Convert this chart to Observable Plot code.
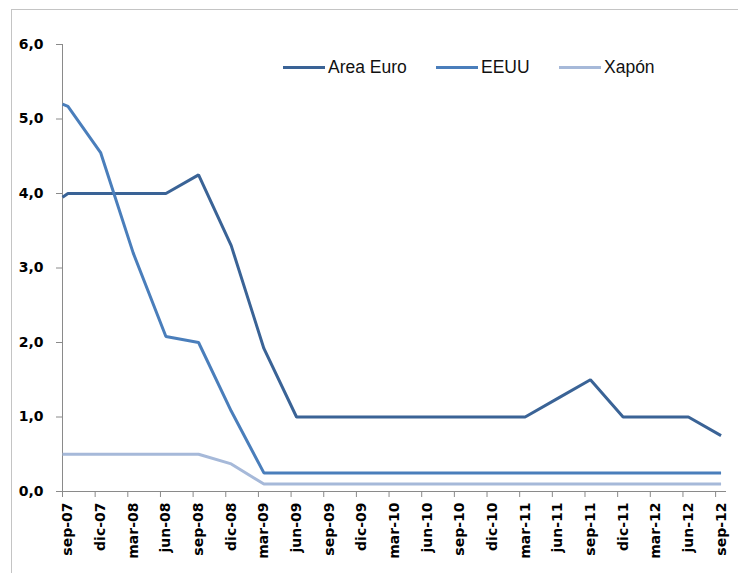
<!DOCTYPE html>
<html>
<head>
<meta charset="utf-8">
<script src="https://cdn.jsdelivr.net/npm/d3@7"></script>
<script src="https://cdn.jsdelivr.net/npm/@observablehq/plot@0.6"></script>
<style>
  html, body { margin: 0; padding: 0; background: #fff; }
  #wrap { position: relative; width: 738px; height: 573px; overflow: hidden; }
  #frame { position: absolute; left: 11px; top: 9px; width: 800px; height: 700px;
           border-left: 1px solid #c4c4c4; border-top: 1px solid #c4c4c4; }
  #chart { position: absolute; left: 0; top: 0; }
  #legend { position: absolute; top: 56px; left: 0; height: 22px; font-family: "Liberation Sans", Arial, sans-serif; font-size: 17.5px; color: #111; }
  .item { position: absolute; top: 0; display: flex; align-items: center; height: 22px; white-space: nowrap; }
  .sw { display: inline-block; width: 42px; height: 3px; margin-right: 3px; }
</style>
</head>
<body>
<div id="wrap">
  <div id="frame"></div>
  <div id="chart"></div>
  <div id="legend"></div>
</div>
<script>
// ---- Data ----
const quarterLabels = ["sep-07","dic-07","mar-08","jun-08","sep-08","dic-08","mar-09","jun-09","sep-09","dic-09","mar-10","jun-10","sep-10","dic-10","mar-11","jun-11","sep-11","dic-11","mar-12","jun-12","sep-12"];
const seriesNames = ["Area Euro", "EEUU", "Xapón"];
const seriesColors = ["#3a6396", "#4a7ebb", "#a6b9d9"];
const startValues = [3.95, 5.2, 0.5]; // value at the very start of sep-07
const areaEuro = [4.0, 4.0, 4.0, 4.0, 4.25, 3.3, 1.92, 1.0, 1.0, 1.0, 1.0, 1.0, 1.0, 1.0, 1.0, 1.25, 1.5, 1.0, 1.0, 1.0, 0.75];
const eeuu     = [5.17, 4.55, 3.2, 2.08, 2.0, 1.08, 0.25, 0.25, 0.25, 0.25, 0.25, 0.25, 0.25, 0.25, 0.25, 0.25, 0.25, 0.25, 0.25, 0.25, 0.25];
const xapon    = [0.5, 0.5, 0.5, 0.5, 0.5, 0.37, 0.1, 0.1, 0.1, 0.1, 0.1, 0.1, 0.1, 0.1, 0.1, 0.1, 0.1, 0.1, 0.1, 0.1, 0.1];
const yTicks = [0, 1, 2, 3, 4, 5, 6];

// month index: 0 = start of sep-07; each quarter point sits at the middle of its month
const monthsPerQuarter = 3;
const totalMonths = quarterLabels.length * monthsPerQuarter - 2; // sep-07 .. sep-12 inclusive = 61 months
const seriesValues = [areaEuro, eeuu, xapon];

const rows = [];
seriesNames.forEach((name, s) => {
  rows.push({serie: name, m: 0, v: startValues[s]});
  seriesValues[s].forEach((v, i) => rows.push({serie: name, m: i * monthsPerQuarter + 0.5, v}));
});
const tickMonths = quarterLabels.map((_, i) => i * monthsPerQuarter);
const labelMonths = quarterLabels.map((_, i) => i * monthsPerQuarter + 0.5);

const axisColor = "#8a8a8a";
const fmt = d => d.toFixed(1).replace(".", ",");

const chart = Plot.plot({
  width: 738,
  height: 573,
  marginLeft: 62,
  marginRight: 12,
  marginTop: 44,
  marginBottom: 82,
  style: {fontFamily: "'DejaVu Sans', sans-serif", fontSize: "14px", fontWeight: "bold", color: "#000", background: "transparent"},
  x: {type: "linear", domain: [0, totalMonths], axis: null, label: null},
  y: {domain: [0, 6], axis: null, label: null},
  color: {domain: seriesNames, range: seriesColors},
  marks: [
    // axis lines
    Plot.ruleX([0], {y1: 0, y2: 6, stroke: axisColor, strokeWidth: 1}),
    Plot.ruleY([0], {x1: 0, x2: totalMonths, stroke: axisColor, strokeWidth: 1}),
    // y axis
    Plot.axisY(yTicks, {anchor: "left", label: null, tickSize: 6, tickPadding: 13, tickFormat: fmt, stroke: axisColor, fill: "#000", fontWeight: "bold"}),
    // x tick marks (quarter boundaries)
    Plot.axisX(tickMonths, {anchor: "bottom", label: null, tickSize: 6, tickFormat: () => "", stroke: axisColor}),
    // x labels (centered in each quarter's month)
    Plot.axisX(labelMonths, {anchor: "bottom", label: null, tickSize: 0, tickPadding: 11, tickRotate: -90,
      tickFormat: d => quarterLabels[Math.round((d - 0.5) / monthsPerQuarter)], fill: "#000", fontWeight: "bold"}),
    // lines
    Plot.line(rows, {x: "m", y: "v", z: "serie", stroke: "serie", strokeWidth: 3, strokeLinejoin: "miter", strokeLinecap: "butt", curve: "linear"})
  ]
});
document.getElementById("chart").appendChild(chart);

// legend
const legendX = [283, 436, 559];
const legend = document.getElementById("legend");
seriesNames.forEach((name, i) => {
  const item = document.createElement("div");
  item.className = "item";
  item.style.left = legendX[i] + "px";
  const sw = document.createElement("span");
  sw.className = "sw";
  sw.style.background = seriesColors[i];
  const t = document.createElement("span");
  t.textContent = name;
  item.appendChild(sw);
  item.appendChild(t);
  legend.appendChild(item);
});
</script>
</body>
</html>
